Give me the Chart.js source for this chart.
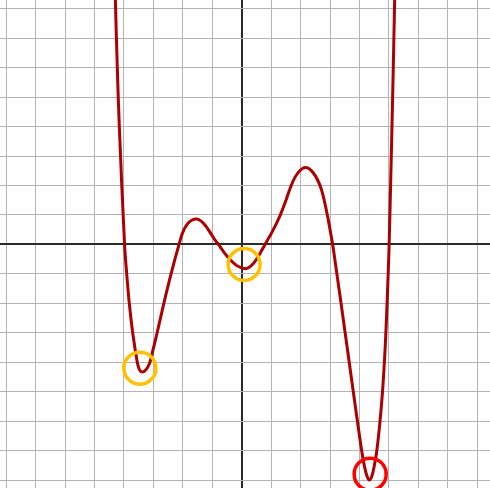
<!DOCTYPE html>
<html>
<head>
<meta charset="utf-8">
<script src="https://cdn.jsdelivr.net/npm/chart.js@4/dist/chart.umd.min.js"></script>
<style>
html, body { margin: 0; padding: 0; background: #ffffff; }
#wrap { width: 490px; height: 488px; }
</style>
</head>
<body>
<div id="wrap"><canvas id="c" width="490" height="488"></canvas></div>
<script>
// Curve samples (grid unit = 1)
const curveX = [-4.315, -4.292, -4.225, -4.156, -3.980, -3.905, -3.817, -3.701, -3.545, -3.49, -3.43, -3.362, -3.29, -3.20, -3.111, -3.00, -2.886, -2.662, -2.401, -2.13, -2.00, -1.85, -1.70, -1.53, -1.38, -1.22, -1.05, -0.90, -0.79, -0.60, -0.40, -0.15, 0.15, 0.40, 0.60, 0.79, 1.05, 1.30, 1.48, 1.64, 1.80, 1.95, 2.05, 2.17, 2.30, 2.45, 2.58, 2.70, 2.80, 2.91, 3.00, 3.087, 3.226, 3.369, 3.509, 3.651, 3.790, 3.930, 4.075, 4.16, 4.25, 4.33, 4.42, 4.50, 4.584, 4.693, 4.778, 4.842, 4.893, 4.934, 4.971, 5.005, 5.100, 5.144, 5.192, 5.215];
const curveY = [9.30, 8.30, 5.95, 3.96, 0.00, -1.02, -2.02, -3.02, -4.02, -4.22, -4.31, -4.33, -4.29, -4.18, -3.98, -3.52, -3.05, -2.07, -1.00, 0.00, 0.42, 0.69, 0.82, 0.86, 0.79, 0.62, 0.37, 0.14, 0.00, -0.27, -0.51, -0.73, -0.82, -0.64, -0.34, 0.00, 0.46, 0.98, 1.44, 1.90, 2.27, 2.48, 2.57, 2.61, 2.56, 2.40, 2.18, 1.88, 1.50, 0.98, 0.49, 0.00, -0.97, -1.98, -2.99, -4.01, -5.02, -6.02, -7.02, -7.50, -7.86, -8.00, -7.86, -7.52, -7.02, -6.02, -5.02, -4.02, -3.02, -2.02, -1.02, 0.00, 3.96, 5.95, 8.30, 9.40];

// Hand-drawn highlight marks
const markX = [-3.46, 0.08, 4.36];
const markY = [-4.20, -0.68, -7.80];
const markColors = ['#FFC000', '#FFC000', '#FF0000'];

const xMin = -8.21, xMax = 8.43, yMin = -8.27, yMax = 8.30;

const curvePts = curveX.map((x, i) => ({ x: x, y: curveY[i] }));
const markPts = markX.map((x, i) => ({ x: x, y: markY[i] }));

const gridColor = ctx => (ctx.tick && ctx.tick.value === 0) ? '#2b2b2b' : '#b4b4b4';
const gridWidth = ctx => (ctx.tick && ctx.tick.value === 0) ? 2 : 1;

new Chart(document.getElementById('c'), {
  type: 'line',
  data: {
    datasets: [
      {
        data: curvePts,
        borderColor: '#aa0000',
        borderWidth: 3,
        pointRadius: 0,
        fill: false,
        tension: 0.4,
        order: 2
      },
      {
        type: 'scatter',
        data: markPts,
        showLine: false,
        pointStyle: 'circle',
        pointRadius: 16,
        pointBorderWidth: 3.5,
        pointBackgroundColor: 'rgba(0,0,0,0)',
        pointBorderColor: markColors,
        clip: false,
        order: 1
      }
    ]
  },
  options: {
    responsive: false,
    animation: false,
    events: [],
    layout: { padding: 0, autoPadding: false },
    plugins: { legend: { display: false }, tooltip: { enabled: false } },
    scales: {
      x: {
        type: 'linear',
        min: xMin, max: xMax,
        border: { display: false },
        ticks: { display: false, stepSize: 1, includeBounds: false },
        grid: { drawTicks: false, color: gridColor, lineWidth: gridWidth }
      },
      y: {
        type: 'linear',
        min: yMin, max: yMax,
        border: { display: false },
        ticks: { display: false, stepSize: 1, includeBounds: false },
        grid: { drawTicks: false, color: gridColor, lineWidth: gridWidth }
      }
    }
  }
});
</script>
</body>
</html>
